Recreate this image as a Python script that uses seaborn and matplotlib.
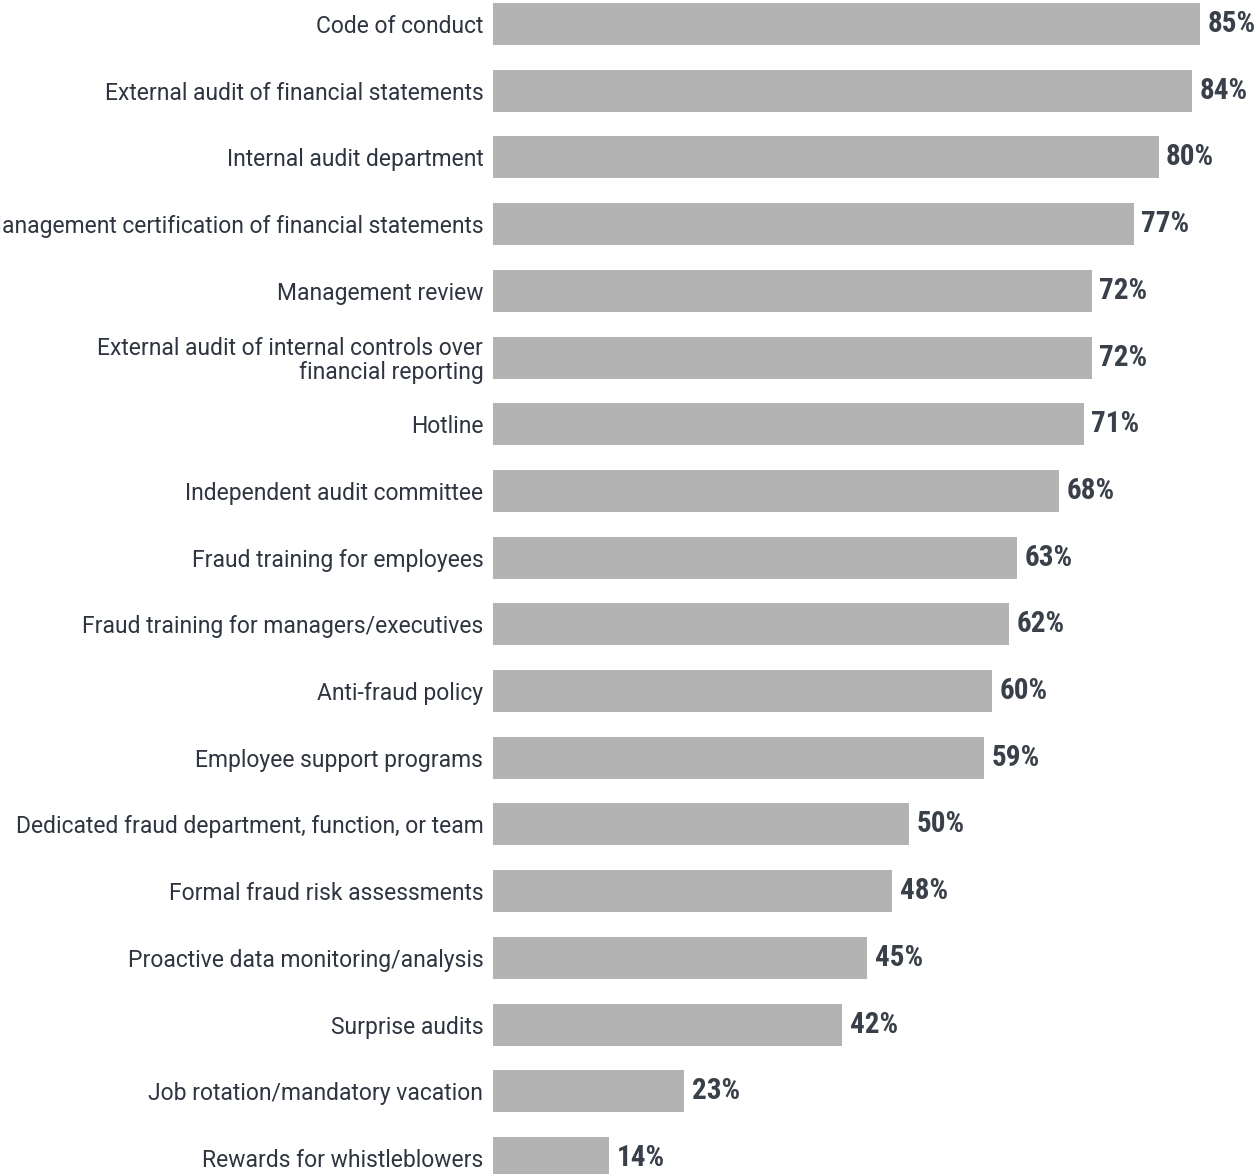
import matplotlib
matplotlib.use("Agg")
import matplotlib.pyplot as plt
import seaborn as sns
import pandas as pd

categories = [
    "Code of conduct",
    "External audit of financial statements",
    "Internal audit department",
    "Management certification of financial statements",
    "Management review",
    "External audit of internal controls over\nfinancial reporting",
    "Hotline",
    "Independent audit committee",
    "Fraud training for employees",
    "Fraud training for managers/executives",
    "Anti-fraud policy",
    "Employee support programs",
    "Dedicated fraud department, function, or team",
    "Formal fraud risk assessments",
    "Proactive data monitoring/analysis",
    "Surprise audits",
    "Job rotation/mandatory vacation",
    "Rewards for whistleblowers",
]
values = [85, 84, 80, 77, 72, 72, 71, 68, 63, 62, 60, 59, 50, 48, 45, 42, 23, 14]

df = pd.DataFrame({"control": categories, "pct": values})

sns.set_theme(style="white")
label_font = ["Roboto", "DejaVu Sans"]
value_font = ["Roboto Condensed", "Liberation Sans Narrow", "DejaVu Sans"]

fig = plt.figure(figsize=(12.6, 11.74), dpi=100)
ax = fig.add_axes([493 / 1260, 0.0, 1 - 493 / 1260, 1.0])

sns.barplot(data=df, x="pct", y="control", orient="h", color="#b3b3b3",
            saturation=1, width=0.63, ax=ax, edgecolor="none")

ax.set_xlim(0, 92.2)
ax.set_ylim(17.24, -0.36)
ax.set_xlabel("")
ax.set_ylabel("")
ax.set_xticks([])
for s in ax.spines.values():
    s.set_visible(False)
ax.tick_params(axis="y", length=0, pad=7)
for t in ax.get_yticklabels():
    t.set_fontfamily(label_font)
    t.set_fontsize(16.5)
    t.set_color("#2f3540")
    t.set_linespacing(1.05)

for i, v in enumerate(values):
    ax.text(v + 0.9, i, f"{v}%", va="center", ha="left",
            fontsize=21, fontweight="bold", fontstretch="condensed",
            family=value_font, color="#3a404a")

fig.savefig("out.png", dpi=100)
